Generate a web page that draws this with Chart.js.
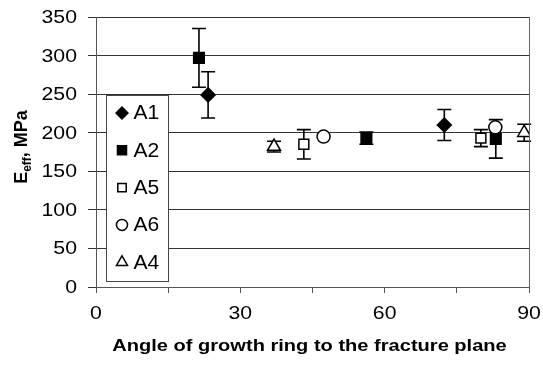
<!DOCTYPE html>
<html>
<head>
<meta charset="utf-8">
<script src="https://cdn.jsdelivr.net/npm/chart.js@4.4.0/dist/chart.umd.min.js"></script>
<style>
  html, body { margin: 0; padding: 0; background: #fff; }
</style>
</head>
<body>
<canvas id="myChart" width="543" height="369"></canvas>
<script>
// data
const seriesNames = ['A1', 'A2', 'A5', 'A6', 'A4'];

const a1X = [23.3, 72.4];
const a1Y = [249, 210];
const a1Err = [30, 20];

const a2X = [21.4, 56.2, 83.1];
const a2Y = [297, 193, 192];
const a2Err = [38, 8, 25];

const a5X = [43.2, 80.0];
const a5Y = [185, 193];
const a5Err = [19, 11];

const a6X = [47.3, 83.0];
const a6Y = [195, 207];
const a6Err = [0, 0];

const a4X = [37.0, 89.0];
const a4Y = [182, 200];
const a4Err = [7, 11];

const xTicks = [0, 30, 60, 90];
const xMinorTicks = [0, 15, 30, 45, 60, 75, 90];
const yTicks = [0, 50, 100, 150, 200, 250, 300, 350];

const font = "'Liberation Sans', Arial, sans-serif";
const stretch = 1.18; // the original text is a bit wider than plain Arial

function points(xs, ys) {
  return xs.map((x, i) => ({ x: x, y: ys[i] }));
}

// marker looks per series
const markers = [
  { style: 'rectRot', radius: 7, fill: '#000' },
  { style: 'rect', radius: 7.5, fill: '#000' },
  { style: 'rect', radius: 7, fill: '#fff' },
  { style: 'circle', radius: 6.5, fill: '#fff' },
  { style: 'triangle', radius: 7.5, fill: '#fff' },
];

const allX = [a1X, a2X, a5X, a6X, a4X];
const allY = [a1Y, a2Y, a5Y, a6Y, a4Y];
const allErr = [a1Err, a2Err, a5Err, a6Err, a4Err];

let datasets = [];
seriesNames.forEach((name, i) => {
  datasets.push({
    label: name,
    data: points(allX[i], allY[i]),
    errors: allErr[i],
    pointStyle: markers[i].style,
    pointRadius: markers[i].radius,
    pointHoverRadius: markers[i].radius,
    pointBackgroundColor: markers[i].fill,
    pointBorderColor: '#000',
    pointBorderWidth: 1.5,
    order: seriesNames.length - i, // later series on top, like the original
  });
});

function wideText(ctx, text, x, y, align) {
  ctx.save();
  ctx.translate(x, y);
  ctx.scale(stretch, 1);
  ctx.textAlign = align;
  ctx.fillText(text, 0, 0);
  ctx.restore();
}

// error bars, drawn under each series' markers
const errorBars = {
  id: 'errorBars',
  beforeDatasetDraw(chart, args) {
    const ds = chart.data.datasets[args.index];
    const xs = chart.scales.x, ys = chart.scales.y;
    const ctx = chart.ctx;
    ctx.save();
    ctx.strokeStyle = '#000';
    ctx.lineWidth = 1.6;
    ds.data.forEach((p, j) => {
      const e = ds.errors[j];
      if (!e) return;
      const px = xs.getPixelForValue(p.x);
      const top = ys.getPixelForValue(p.y + e);
      const bot = ys.getPixelForValue(p.y - e);
      ctx.beginPath();
      ctx.moveTo(px, top); ctx.lineTo(px, bot);
      ctx.moveTo(px - 7, top); ctx.lineTo(px + 7, top);
      ctx.moveTo(px - 7, bot); ctx.lineTo(px + 7, bot);
      ctx.stroke();
    });
    ctx.restore();
  }
};

// right border, tick labels, titles, legend box
const extras = {
  id: 'extras',
  afterDraw(chart) {
    const ctx = chart.ctx;
    const area = chart.chartArea;
    const xs = chart.scales.x, ys = chart.scales.y;
    ctx.save();

    ctx.strokeStyle = '#666';
    ctx.lineWidth = 1;
    ctx.beginPath();
    ctx.moveTo(area.right + 0.5, area.top);
    ctx.lineTo(area.right + 0.5, area.bottom);
    ctx.stroke();

    // tick labels
    ctx.fillStyle = '#000';
    ctx.font = '18px ' + font;
    ctx.textBaseline = 'middle';
    yTicks.forEach(v => wideText(ctx, String(v), 77, ys.getPixelForValue(v) + 1, 'right'));
    xTicks.forEach(v => wideText(ctx, String(v), xs.getPixelForValue(v), 314, 'center'));

    // x title
    ctx.font = 'bold 17px ' + font;
    wideText(ctx, 'Angle of growth ring to the fracture plane', (area.left + area.right) / 2 - 3, 346, 'center');

    // legend
    const lx = 106.5, ly = 95.5, lw = 62, lh = 186;
    ctx.fillStyle = '#fff';
    ctx.fillRect(lx, ly, lw, lh);
    ctx.strokeStyle = '#444';
    ctx.strokeRect(lx, ly, lw, lh);
    ctx.font = '19.5px ' + font;
    seriesNames.forEach((name, i) => {
      const cy = 113 + i * 37.3;
      ctx.fillStyle = markers[i].fill;
      ctx.strokeStyle = '#000';
      ctx.lineWidth = 1.5;
      Chart.helpers.drawPoint(ctx, {
        pointStyle: markers[i].style,
        radius: markers[i].radius * 0.85,
        rotation: 0,
        borderWidth: 1.5,
      }, 122, cy);
      ctx.fillStyle = '#000';
      ctx.save();
      ctx.translate(133.5, cy + 1);
      ctx.scale(1.08, 1);
      ctx.textAlign = 'left';
      ctx.fillText(name, 0, 0);
      ctx.restore();
    });

    // y axis title
    ctx.translate(20, 147);
    ctx.rotate(-Math.PI / 2);
    ctx.fillStyle = '#000';
    ctx.textBaseline = 'alphabetic';
    ctx.textAlign = 'left';
    const big = 'bold 18px ' + font;
    const small = 'bold 12px ' + font;
    ctx.font = big;
    const w1 = ctx.measureText('E').width;
    const w3 = ctx.measureText(', MPa').width;
    ctx.font = small;
    const w2 = ctx.measureText('eff').width;
    let x0 = -(w1 + w2 + w3) / 2;
    const base = 7;
    ctx.font = big;
    ctx.fillText('E', x0, base);
    ctx.font = small;
    ctx.fillText('eff', x0 + w1, base + 4);
    ctx.font = big;
    ctx.fillText(', MPa', x0 + w1 + w2, base);
    ctx.restore();
  }
};

const config = {
  type: 'scatter',
  data: { datasets: datasets },
  options: {
    responsive: false,
    animation: false,
    events: [],
    layout: { padding: { top: 17, right: 14, left: 0, bottom: 0 } },
    plugins: {
      legend: { display: false },
      tooltip: { enabled: false },
    },
    scales: {
      x: {
        type: 'linear',
        min: 0,
        max: 90,
        afterFit(scale) {
          scale.height = 82;
          scale.paddingLeft = 0;
          scale.paddingRight = 0;
        },
        afterBuildTicks(scale) {
          scale.ticks = xMinorTicks.map(v => ({ value: v }));
        },
        ticks: {
          autoSkip: false,
          maxRotation: 0,
          callback: () => '',
        },
        grid: {
          drawOnChartArea: false,
          drawTicks: true,
          tickLength: 6,
          color: '#555',
        },
        border: { display: true, color: '#555' },
      },
      y: {
        min: 0,
        max: 350,
        afterFit(scale) {
          scale.width = 96;
          scale.paddingTop = 0;
          scale.paddingBottom = 0;
        },
        ticks: {
          stepSize: 50,
          callback: () => '',
        },
        grid: {
          color: '#333',
          tickLength: 8,
          lineWidth: 1,
        },
        border: { display: true, color: '#555' },
      },
    },
  },
  plugins: [errorBars, extras],
};

const myChart = new Chart(document.getElementById('myChart'), config);
</script>
</body>
</html>
